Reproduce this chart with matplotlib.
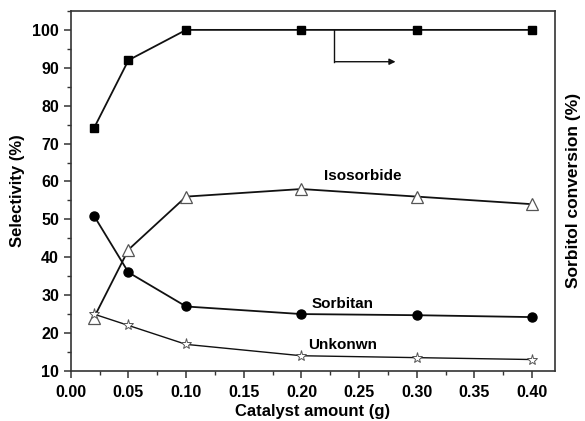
import numpy as np
import matplotlib
matplotlib.use("Agg")
import matplotlib.pyplot as plt
from matplotlib.ticker import MultipleLocator

plt.rcParams['font.family'] = ['Liberation Sans', 'DejaVu Sans']
plt.rcParams['font.weight'] = 'bold'

catalyst = [0.02, 0.05, 0.10, 0.20, 0.30, 0.40]
conversion = [74, 92, 100, 100, 100, 100]
isosorbide = [24, 42, 56, 58, 56, 54]
sorbitan = [51, 36, 27, 25, 24.7, 24.2]
unknown = [25, 22, 17, 14, 13.5, 13]

fig = plt.figure(figsize=(5.85, 4.21), dpi=100)
ax = fig.add_axes([0.121, 0.119, 0.828, 0.855])

lc = '#111111'
ax.plot(catalyst, conversion, '-s', color=lc, lw=1.3, ms=6, mfc='black', mec='black')
ax.plot(catalyst, isosorbide, '-^', color=lc, lw=1.3, ms=8, mfc='white', mec='#555555', mew=0.9)
ax.plot(catalyst, sorbitan, '-o', color=lc, lw=1.3, ms=6.5, mfc='black', mec='black')
ax.plot(catalyst, unknown, '-*', color=lc, lw=1.0, ms=8, mfc='white', mec='#555555', mew=0.7)

# arrow pointing to the right axis
ax.plot([0.228, 0.228], [100, 91.6], color=lc, lw=1.0)
ax.annotate('', xy=(0.284, 91.6), xytext=(0.227, 91.6),
            arrowprops=dict(arrowstyle='-|>', color=lc, lw=1.0, mutation_scale=9))

ax.text(0.253, 61.5, 'Isosorbide', ha='center', va='center', fontsize=11, fontweight='bold')
ax.text(0.236, 27.7, 'Sorbitan', ha='center', va='center', fontsize=11, fontweight='bold')
ax.text(0.236, 16.9, 'Unkonwn', ha='center', va='center', fontsize=11, fontweight='bold')

ax.set_xlim(0.0, 0.42)
ax.set_ylim(10, 105)
ax.xaxis.set_major_locator(MultipleLocator(0.05))
ax.xaxis.set_minor_locator(MultipleLocator(0.025))
ax.yaxis.set_major_locator(MultipleLocator(10))
ax.yaxis.set_minor_locator(MultipleLocator(5))
ax.set_xticklabels([f'{v:.2f}' for v in ax.get_xticks()])
ax.tick_params(which='major', direction='out', length=5, width=1.1, labelsize=11.5, color='#333333')
ax.tick_params(axis='x', pad=5)
ax.tick_params(which='minor', direction='out', length=3, width=1.0, color='#333333')
ax.tick_params(top=False, right=False, which='both')
for s in ax.spines.values():
    s.set_linewidth(1.2)
    s.set_color('#333333')

ax.set_xlabel('Catalyst amount (g)', fontsize=12, fontweight='bold', labelpad=3)
ax.set_ylabel('Selectivity (%)', fontsize=12, fontweight='bold', labelpad=5)

ax2 = ax.twinx()
ax2.set_ylim(10, 105)
ax2.set_yticks([])
ax2.set_ylabel('Sorbitol conversion (%)', fontsize=12.5, fontweight='bold', labelpad=8)
for s in ax2.spines.values():
    s.set_visible(False)

plt.savefig('out.png', dpi=100)
